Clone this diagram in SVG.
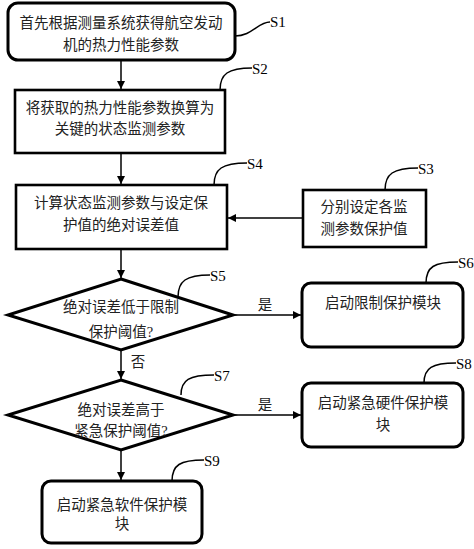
<svg xmlns="http://www.w3.org/2000/svg" width="474" height="549" viewBox="0 0 474 549">
<defs>
<marker id="ah" viewBox="0 0 10 10" refX="10" refY="5" markerWidth="8" markerHeight="8" markerUnits="userSpaceOnUse" orient="auto">
<path d="M0,0 L10,5 L0,10 z" fill="#000"/>
</marker>
</defs>
<style>
.box{fill:#fff;stroke:#000;stroke-width:2.6}
.rbox{fill:#fff;stroke:#000;stroke-width:3}
.dia{fill:#fff;stroke:#000;stroke-width:3}
.t{font-family:"Liberation Serif","Noto Sans CJK SC",serif;font-size:14.5px;fill:#222;text-anchor:middle}
.lbl{font-family:"Liberation Serif","Noto Sans CJK SC",serif;font-size:15px;fill:#000}
.ld{fill:none;stroke:#000;stroke-width:1.5}
.c{fill:none;stroke:#000;stroke-width:1.5}
</style>
<rect width="474" height="549" fill="#fff"/>
<g id="connectors">
<line class="c" x1="121" y1="60" x2="121" y2="89" marker-end="url(#ah)"/>
<line class="c" x1="121" y1="153" x2="121" y2="184" marker-end="url(#ah)"/>
<line class="c" x1="303" y1="218" x2="228" y2="218" marker-end="url(#ah)"/>
<line class="c" x1="121" y1="249" x2="121" y2="278" marker-end="url(#ah)"/>
<line class="c" x1="233" y1="315" x2="301" y2="315" marker-end="url(#ah)"/>
<line class="c" x1="121" y1="350" x2="121" y2="379" marker-end="url(#ah)"/>
<line class="c" x1="233" y1="415" x2="301" y2="415" marker-end="url(#ah)"/>
<line class="c" x1="121" y1="450" x2="121" y2="480" marker-end="url(#ah)"/>
<text class="t" x="265" y="310">是</text>
<text class="t" x="265" y="410">是</text>
<text class="t" x="138" y="367">否</text>
</g>
<g id="S1">
<rect class="rbox" x="8" y="3" width="227" height="57" rx="10"/>
<text class="t" x="121" y="28">首先根据测量系统获得航空发动</text>
<text class="t" x="121" y="50">机的热力性能参数</text>
<path class="ld" d="M235,36 C252,36 258,22 270,22"/>
<text class="lbl" x="270" y="27">S1</text>
</g>
<g id="S2">
<rect class="box" x="15" y="90" width="210" height="63"/>
<text class="t" x="120" y="113">将获取的热力性能参数换算为</text>
<text class="t" x="120" y="134">关键的状态监测参数</text>
<path class="ld" d="M220,90 C220,74 228,68 252,68"/>
<text class="lbl" x="252" y="74">S2</text>
</g>
<g id="S4">
<rect class="box" x="16" y="185" width="211" height="64"/>
<text class="t" x="121" y="208">计算状态监测参数与设定保</text>
<text class="t" x="121" y="230">护值的绝对误差值</text>
<path class="ld" d="M214,185 C214,169 222,163 247,163"/>
<text class="lbl" x="247" y="169">S4</text>
</g>
<g id="S3">
<rect class="box" x="303" y="190" width="123" height="57"/>
<text class="t" x="364" y="212">分别设定各监</text>
<text class="t" x="364" y="234">测参数保护值</text>
<path class="ld" d="M385,190 C385,174 393,168 418,168"/>
<text class="lbl" x="418" y="174">S3</text>
</g>
<g id="S5">
<polygon class="dia" points="121,279 233,315 121,350 8,315"/>
<text class="t" x="121" y="312">绝对误差低于限制</text>
<text class="t" x="121" y="337">保护阈值?</text>
<path class="ld" d="M178,297 C178,281 186,275 210,275"/>
<text class="lbl" x="210" y="281">S5</text>
</g>
<g id="S6">
<rect class="rbox" x="302" y="283" width="161" height="64" rx="9"/>
<text class="t" x="383" y="308">启动限制保护模块</text>
<path class="ld" d="M426,283 C426,267 434,262 458,262"/>
<text class="lbl" x="458" y="268">S6</text>
</g>
<g id="S7">
<polygon class="dia" points="121,380 233,415 121,450 8,415"/>
<text class="t" x="121" y="415">绝对误差高于</text>
<text class="t" x="121" y="436">紧急保护阈值?</text>
<path class="ld" d="M181,395 C181,380 189,375 214,375"/>
<text class="lbl" x="214" y="381">S7</text>
</g>
<g id="S8">
<rect class="rbox" x="302" y="383" width="161" height="64" rx="9"/>
<text class="t" x="383" y="408">启动紧急硬件保护模</text>
<text class="t" x="383" y="430">块</text>
<path class="ld" d="M424,383 C424,368 432,363 456,363"/>
<text class="lbl" x="456" y="369">S8</text>
</g>
<g id="S9">
<rect class="rbox" x="42" y="481" width="160" height="62" rx="9"/>
<text class="t" x="122" y="510">启动紧急软件保护模</text>
<text class="t" x="122" y="529">块</text>
<path class="ld" d="M172,481 C172,465 180,460 204,460"/>
<text class="lbl" x="204" y="466">S9</text>
</g>
</svg>
